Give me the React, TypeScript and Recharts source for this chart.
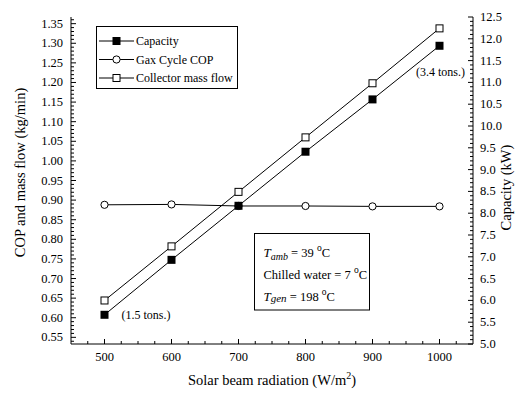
import { LineChart, Line, XAxis, YAxis, Legend } from 'recharts';

// solar beam radiation, W/m2
const radiation = [500, 600, 700, 800, 900, 1000];
// capacity, kW (right axis)
const capacityKw = [5.67, 6.93, 8.17, 9.41, 10.61, 11.84];
// gax cycle COP (left axis)
const gaxCop = [0.888, 0.889, 0.885, 0.885, 0.884, 0.884];
// collector mass flow, kg/min (left axis)
const collectorFlow = [0.644, 0.782, 0.921, 1.06, 1.198, 1.338];

const tonsNotes = ['(1.5 tons.)', '', '', '', '', '(3.4 tons.)'];

const xMajor = [500, 600, 700, 800, 900, 1000];
const leftMajor = [0.55, 0.6, 0.65, 0.7, 0.75, 0.8, 0.85, 0.9, 0.95, 1.0, 1.05, 1.1, 1.15, 1.2, 1.25, 1.3, 1.35];
const rightMajor = [5.0, 5.5, 6.0, 6.5, 7.0, 7.5, 8.0, 8.5, 9.0, 9.5, 10.0, 10.5, 11.0, 11.5, 12.0, 12.5];

const legendNames = ['Capacity', 'Gax Cycle COP', 'Collector mass flow'];

const rows = radiation.map((x, i) => ({
  x,
  capacity: capacityKw[i],
  cop: gaxCop[i],
  flow: collectorFlow[i],
}));

// minor tick positions (25 W/m2, 0.01, 0.1 kW)
const xTicks: number[] = [];
for (let v = 475; v <= 1025; v += 25) xTicks.push(v);
const leftTicks: number[] = [];
for (let i = 54; i <= 136; i++) leftTicks.push(i / 100);
const rightTicks: number[] = [];
for (let i = 50; i <= 125; i++) rightTicks.push(i / 10);

const FONT = 'Liberation Serif, DejaVu Serif, serif';
const isIn = (list: number[], v: number) => list.some((m) => Math.abs(m - v) < 1e-6);

const BottomTick = ({ x, y, payload }: any) => {
  const major = isIn(xMajor, payload.value);
  return (
    <g>
      <line x1={x} x2={x} y1={y} y2={y - (major ? 5 : 3)} stroke="#000" />
      {major && (
        <text x={x} y={y + 17} textAnchor="middle" fontSize={12.5} style={{ fontFamily: FONT }} fill="#000">
          {payload.value}
        </text>
      )}
    </g>
  );
};

const TopTick = ({ x, y, payload }: any) => {
  const major = isIn(xMajor, payload.value);
  return <line x1={x} x2={x} y1={y} y2={y + (major ? 5 : 3)} stroke="#000" />;
};

const LeftTick = ({ x, y, payload }: any) => {
  const major = isIn(leftMajor, payload.value);
  return (
    <g>
      <line x1={x} x2={x + (major ? 5 : 3)} y1={y} y2={y} stroke="#000" />
      {major && (
        <text x={x - 8} y={y + 4} textAnchor="end" fontSize={12.5} style={{ fontFamily: FONT }} fill="#000">
          {payload.value.toFixed(2)}
        </text>
      )}
    </g>
  );
};

const RightTick = ({ x, y, payload }: any) => {
  const major = isIn(rightMajor, payload.value);
  return (
    <g>
      <line x1={x} x2={x - (major ? 5 : 3)} y1={y} y2={y} stroke="#000" />
      {major && (
        <text x={x + 7} y={y + 4} textAnchor="start" fontSize={12.5} style={{ fontFamily: FONT }} fill="#000">
          {payload.value.toFixed(1)}
        </text>
      )}
    </g>
  );
};

const FilledSquare = (p: any) => (
  <rect key={`fs-${p.index}`} x={p.cx - 4} y={p.cy - 4} width={8} height={8} fill="#000" />
);
const OpenSquare = (p: any) => (
  <rect key={`os-${p.index}`} x={p.cx - 3.5} y={p.cy - 3.5} width={7} height={7} fill="#fff" stroke="#000" />
);
const OpenCircle = (p: any) => (
  <circle key={`oc-${p.index}`} cx={p.cx} cy={p.cy} r={3.6} fill="#fff" stroke="#000" />
);

const TonsLabel = (p: any) => {
  const note = tonsNotes[p.index];
  if (!note) return <g key={`t-${p.index}`} />;
  const first = p.index === 0;
  return (
    <text
      key={`t-${p.index}`}
      x={first ? p.x + 17 : p.x + 1}
      y={first ? p.y + 4 : p.y + 30}
      textAnchor={first ? 'start' : 'middle'}
      fontSize={12}
      style={{ fontFamily: FONT }}
      fill="#000"
    >
      {note}
    </text>
  );
};

const LeftTitle = ({ viewBox }: any) => {
  const cx = viewBox.x + 20;
  const cy = viewBox.y + viewBox.height / 2 - 8;
  return (
    <text x={cx} y={cy} transform={`rotate(-90 ${cx} ${cy})`} textAnchor="middle" dominantBaseline="central" fontSize={14.5} style={{ fontFamily: FONT }} fill="#000">
      COP and mass flow (kg/min)
    </text>
  );
};

const RightTitle = ({ viewBox }: any) => {
  const cx = viewBox.x + 33;
  const cy = viewBox.y + viewBox.height / 2 + 7;
  return (
    <text x={cx} y={cy} transform={`rotate(-90 ${cx} ${cy})`} textAnchor="middle" dominantBaseline="central" fontSize={14.5} style={{ fontFamily: FONT }} fill="#000">
      Capacity (kW)
    </text>
  );
};

const BottomTitle = ({ viewBox }: any) => (
  <text x={viewBox.x + viewBox.width / 2} y={viewBox.y + 41} textAnchor="middle" fontSize={14.5} style={{ fontFamily: FONT }} fill="#000">
    Solar beam radiation (W/m
    <tspan fontSize={10} dy={-6}>2</tspan>
    <tspan dy={6}>)</tspan>
  </text>
);

const LegendBox = () => {
  const markers = [
    (cx: number, cy: number) => <rect x={cx - 4} y={cy - 4} width={8} height={8} fill="#000" />,
    (cx: number, cy: number) => <circle cx={cx} cy={cy} r={3.6} fill="#fff" stroke="#000" />,
    (cx: number, cy: number) => <rect x={cx - 3.5} y={cy - 3.5} width={7} height={7} fill="#fff" stroke="#000" />,
  ];
  return (
    <svg width={142} height={63} style={{ display: 'block' }}>
      <rect x={0.5} y={0.5} width={141} height={62} fill="#fff" stroke="#000" />
      {legendNames.map((name, i) => {
        const y = 15 + i * 18.5;
        return (
          <g key={name}>
            <line x1={3} x2={38} y1={y} y2={y} stroke="#000" />
            {markers[i](20.5, y)}
            <text x={40} y={y + 4} fontSize={12} style={{ fontFamily: FONT }} fill="#000">
              {name}
            </text>
          </g>
        );
      })}
    </svg>
  );
};

const NoteBox = () => (
  <svg width={117} height={78} style={{ position: 'absolute', left: 253.5, top: 232.5, fontFamily: FONT }}>
    <rect x={0.5} y={0.5} width={115} height={76.5} fill="#fff" stroke="#000" />
    <text x={9.5} y={23.5} fontSize={12.5} fill="#000">
      <tspan fontStyle="italic" fontSize={13}>T</tspan>
      <tspan fontStyle="italic" fontSize={10} dy={3}>amb</tspan>
      <tspan dy={-3}> = 39 </tspan>
      <tspan fontSize={9.5} dy={-6}>o</tspan>
      <tspan dy={6}>C</tspan>
    </text>
    <text x={9.5} y={45.5} fontSize={12.5} fill="#000">
      Chilled water = 7 <tspan fontSize={9.5} dy={-6}>o</tspan>
      <tspan dy={6}>C</tspan>
    </text>
    <text x={9.5} y={68} fontSize={12.5} fill="#000">
      <tspan fontStyle="italic" fontSize={13}>T</tspan>
      <tspan fontStyle="italic" fontSize={11} dy={1}>gen</tspan>
      <tspan dy={-1}> = 198 </tspan>
      <tspan fontSize={9.5} dy={-6}>o</tspan>
      <tspan dy={6}>C</tspan>
    </text>
  </svg>
);

const App = () => {
  return (
    <div style={{ position: 'absolute', left: 0, top: 0, width: 522, height: 394, background: '#fff', fontFamily: FONT }}>
      <LineChart width={522} height={394} data={rows} margin={{ top: 17, right: 0, bottom: 0, left: 0 }}>
        <XAxis
          xAxisId="b"
          dataKey="x"
          type="number"
          domain={[450, 1050]}
          ticks={xTicks}
          interval={0}
          tickLine={false}
          tickSize={0}
          tickMargin={0}
          tick={(p: any) => <BottomTick {...p} />}
          axisLine={{ stroke: '#000' }}
          height={50}
          label={<BottomTitle />}
        />
        <XAxis
          xAxisId="t"
          orientation="top"
          dataKey="x"
          type="number"
          domain={[450, 1050]}
          ticks={xTicks}
          interval={0}
          tickLine={false}
          tickSize={0}
          tickMargin={0}
          tick={(p: any) => <TopTick {...p} />}
          axisLine={{ stroke: '#000' }}
          height={0}
        />
        <YAxis
          yAxisId="l"
          type="number"
          domain={[0.533, 1.367]}
          ticks={leftTicks}
          interval={0}
          tickLine={false}
          tickSize={0}
          tickMargin={0}
          tick={(p: any) => <LeftTick {...p} />}
          axisLine={{ stroke: '#000' }}
          width={71}
          label={<LeftTitle />}
        />
        <YAxis
          yAxisId="r"
          orientation="right"
          type="number"
          domain={[5, 12.5]}
          ticks={rightTicks}
          interval={0}
          tickLine={false}
          tickSize={0}
          tickMargin={0}
          tick={(p: any) => <RightTick {...p} />}
          axisLine={{ stroke: '#000' }}
          width={49}
          label={<RightTitle />}
        />
        <Legend
          layout="vertical"
          align="center"
          verticalAlign="middle"
          wrapperStyle={{ left: 96, top: 26, width: 142, height: 63 }}
          content={() => <LegendBox />}
        />
        <Line xAxisId="b" yAxisId="l" dataKey="cop" stroke="#000" strokeWidth={1} dot={OpenCircle} isAnimationActive={false} />
        <Line xAxisId="b" yAxisId="l" dataKey="flow" stroke="#000" strokeWidth={1} dot={OpenSquare} isAnimationActive={false} />
        <Line
          xAxisId="b"
          yAxisId="r"
          dataKey="capacity"
          stroke="#000"
          strokeWidth={1}
          dot={FilledSquare}
          label={TonsLabel}
          isAnimationActive={false}
        />
      </LineChart>
      <NoteBox />
    </div>
  );
};

export default App;
